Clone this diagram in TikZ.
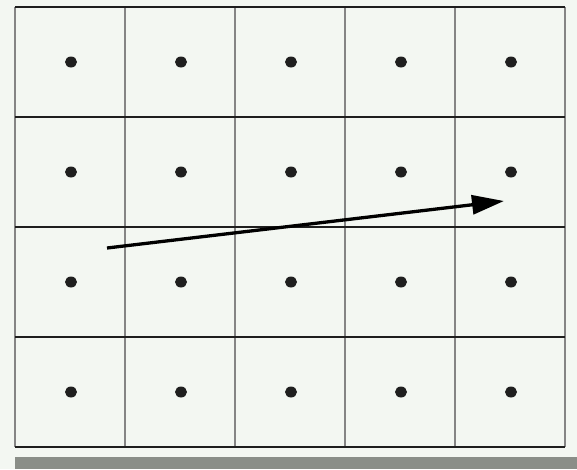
\documentclass[tikz,border=0pt]{standalone}
\usetikzlibrary{arrows.meta}
\definecolor{bg}{HTML}{F3F7F2}
\definecolor{vline}{HTML}{858585}
\definecolor{hline}{HTML}{1E1E1E}
\definecolor{barc}{HTML}{8A8E88}
\tikzset{
  cellv/.style={draw=vline, line width=2.6pt},
  cellh/.style={draw=hline, line width=2pt},
  gdot/.style={ellipse, fill=black!88, inner sep=0pt, minimum width=12pt, minimum height=11pt},
  motion/.style={line width=3.3pt, -{Triangle[length=32pt,width=19pt]}}
}
\usetikzlibrary{shapes.geometric}
\begin{document}
\begin{tikzpicture}[x=1pt,y=-1pt]
\useasboundingbox (0,0) rectangle (577,469);
\fill[bg] (0,0) rectangle (577,469);
\fill[barc] (15,457) rectangle (577,469);
\foreach \i in {0,...,5} { \draw[cellv] ({15+\i*110},7) -- ({15+\i*110},447); }
\foreach \j in {0,...,4} { \draw[cellh] (15,{7+\j*110}) -- (565,{7+\j*110}); }
\foreach \i in {0,...,4} {
  \foreach \j in {0,...,3} {
    \node[gdot] (d\i\j) at ({71+\i*110},{62+\j*110}) {};
  }
}
\coordinate (start) at (107,248);
\coordinate (tip) at (504,201);
\draw[motion] (start) -- (tip);
\end{tikzpicture}
\end{document}
